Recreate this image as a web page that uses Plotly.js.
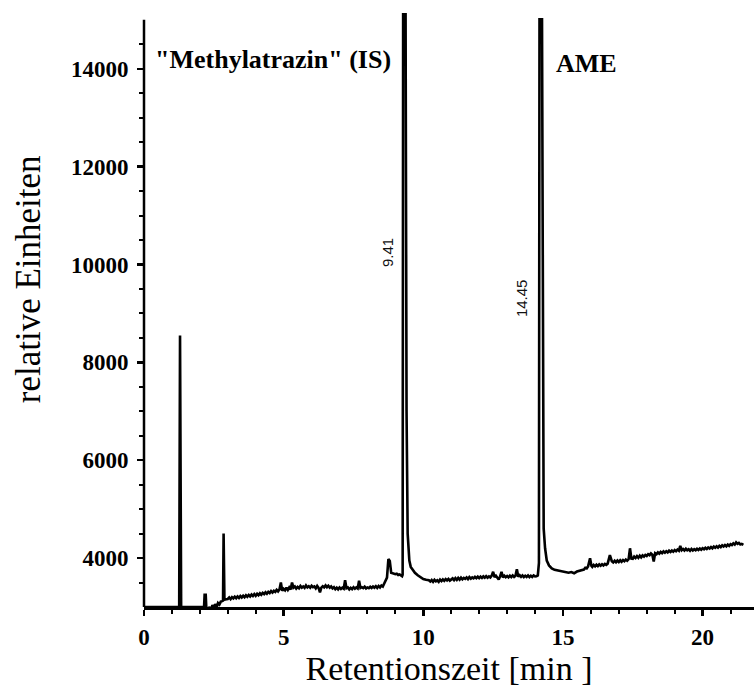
<!DOCTYPE html>
<html>
<head>
<meta charset="utf-8">
<script src="https://cdn.plot.ly/plotly-3.0.1.min.js"></script>
<style>html,body{margin:0;padding:0;background:#fff;}#chart{width:754px;height:693px;}</style>
</head>
<body>
<div id="chart"></div>
<script>
// Retention time [min]
const timeMin = [
  0, 1.26, 1.29, 1.33, 2.15, 2.17, 2.21, 2.23, 2.30, 2.35, 2.40, 2.45, 2.50, 2.55, 2.60, 2.65, 2.70, 2.75, 2.80, 2.83, 2.85, 2.88,
  2.95, 3.0, 3.05, 3.1, 3.15, 3.2, 3.25, 3.3, 3.35, 3.4, 3.45, 3.5, 3.55, 3.6, 3.65, 3.7, 3.75, 3.8, 3.85, 3.9, 3.95, 4.0,
  4.05, 4.1, 4.15, 4.2, 4.25, 4.3, 4.35, 4.4, 4.45, 4.5, 4.55, 4.6, 4.65, 4.7, 4.75, 4.8, 4.85, 4.9, 4.95, 5.0,
  5.05, 5.1, 5.15, 5.2, 5.25, 5.3, 5.35, 5.4, 5.45, 5.5, 5.55, 5.6, 5.65, 5.7, 5.75, 5.8, 5.85, 5.9, 5.95, 6.0,
  6.05, 6.1, 6.15, 6.2, 6.25, 6.3, 6.35, 6.4, 6.45, 6.5, 6.55, 6.6, 6.65, 6.7, 6.75, 6.8, 6.85, 6.9, 6.95, 7.0,
  7.05, 7.1, 7.15, 7.2, 7.25, 7.3, 7.35, 7.4, 7.45, 7.5, 7.55, 7.6, 7.65, 7.7, 7.75, 7.8, 7.85, 7.9, 7.95, 8.0,
  8.05, 8.1, 8.15, 8.2, 8.25, 8.3, 8.35, 8.4, 8.45, 8.5, 8.55, 8.6, 8.65, 8.7, 8.75, 8.8, 8.85, 8.9, 8.95,
  9.0, 9.05, 9.1, 9.15, 9.2, 9.24, 9.26, 9.28, 9.36, 9.40, 9.44, 9.47, 9.50, 9.55, 9.62, 9.70, 9.80, 9.90, 10.0, 10.1, 10.2,
  10.25, 10.3, 10.35, 10.4, 10.45, 10.5, 10.55, 10.6, 10.65, 10.7, 10.75, 10.8, 10.85, 10.9, 10.95, 11.0,
  11.05, 11.1, 11.15, 11.2, 11.25, 11.3, 11.35, 11.4, 11.45, 11.5, 11.55, 11.6, 11.65, 11.7, 11.75, 11.8, 11.85, 11.9, 11.95, 12.0,
  12.05, 12.1, 12.15, 12.2, 12.25, 12.3, 12.35, 12.4, 12.45, 12.5, 12.55, 12.6, 12.65, 12.7, 12.75, 12.8, 12.85, 12.9, 12.95, 13.0,
  13.05, 13.1, 13.15, 13.2, 13.25, 13.3, 13.35, 13.4, 13.45, 13.5, 13.55, 13.6, 13.65, 13.7, 13.75, 13.8, 13.85, 13.9, 13.95, 14.0,
  14.05, 14.10, 14.14, 14.16, 14.25, 14.28, 14.31, 14.36, 14.42, 14.5, 14.6, 14.7, 14.8, 14.9, 15.0,
  15.1, 15.2, 15.3, 15.4, 15.5, 15.6, 15.7, 15.75, 15.8, 15.85, 15.9, 15.97, 16.02, 16.05, 16.1, 16.15, 16.2, 16.25, 16.3, 16.35, 16.4, 16.45, 16.5, 16.55, 16.6, 16.68, 16.75, 16.8, 16.85, 16.9, 16.95, 17.0,
  17.05, 17.1, 17.15, 17.2, 17.25, 17.3, 17.35, 17.4, 17.45, 17.5, 17.55, 17.6, 17.65, 17.7, 17.75, 17.8, 17.85, 17.9, 17.95, 18.0,
  18.05, 18.1, 18.15, 18.2, 18.25, 18.3, 18.35, 18.4, 18.45, 18.5, 18.55, 18.6, 18.65, 18.7, 18.75, 18.8, 18.85, 18.9, 18.95, 19.0,
  19.05, 19.1, 19.15, 19.2, 19.25, 19.3, 19.35, 19.4, 19.45, 19.5, 19.55, 19.6, 19.65, 19.7, 19.75, 19.8, 19.85, 19.9, 19.95, 20.0,
  20.05, 20.1, 20.15, 20.2, 20.25, 20.3, 20.35, 20.4, 20.45, 20.5, 20.55, 20.6, 20.65, 20.7, 20.75, 20.8, 20.85, 20.9, 20.95, 21.0,
  21.05, 21.1, 21.15, 21.2, 21.25, 21.3, 21.35, 21.4, 21.46
];
// Detector response [relative units]
const signal = [
  3000, 3000, 8550, 3000, 3000, 3250, 3250, 3000, 2950, 3000, 2930, 3040, 2960, 3060, 2990, 3080, 3050, 3110, 3120, 3130, 4500, 3150,
  3160, 3165, 3195, 3160, 3200, 3175, 3210, 3180, 3215, 3185, 3225, 3195, 3230, 3200, 3240, 3210, 3245, 3215, 3255, 3225, 3265, 3230,
  3270, 3240, 3280, 3250, 3290, 3265, 3300, 3270, 3310, 3285, 3325, 3295, 3330, 3310, 3350, 3320, 3360, 3500, 3330, 3370,
  3340, 3395, 3350, 3400, 3360, 3500, 3395, 3420, 3375, 3410, 3385, 3430, 3395, 3420, 3390, 3440, 3400, 3425, 3395, 3435,
  3405, 3420, 3380, 3430, 3390, 3300, 3395, 3425, 3400, 3440, 3405, 3435, 3395, 3420, 3380, 3405, 3365, 3395, 3360, 3400,
  3370, 3395, 3375, 3545, 3385, 3400, 3360, 3390, 3365, 3405, 3375, 3400, 3380, 3535, 3390, 3405, 3385, 3415, 3380, 3400,
  3385, 3415, 3390, 3420, 3395, 3425, 3390, 3430, 3400, 3440, 3420, 3470, 3520, 3600, 3980, 3940, 3700, 3690, 3675,
  3670, 3680, 3655, 3665, 3640, 3630, 3660, 16400, 16400, 7000, 4500, 4250, 3950, 3820, 3760, 3700, 3650, 3600, 3570, 3555, 3545,
  3520, 3550, 3515, 3555, 3525, 3545, 3515, 3560, 3530, 3565, 3535, 3570, 3545, 3575, 3540, 3570,
  3585, 3550, 3590, 3555, 3595, 3560, 3600, 3565, 3595, 3575, 3605, 3570, 3610, 3580, 3605, 3585, 3615, 3590, 3620, 3590,
  3620, 3595, 3625, 3600, 3630, 3600, 3625, 3605, 3640, 3720, 3610, 3640, 3600, 3560, 3625, 3720, 3605, 3640, 3610, 3635,
  3605, 3640, 3610, 3645, 3615, 3640, 3770, 3620, 3650, 3615, 3645, 3610, 3640, 3615, 3645, 3610, 3640, 3615, 3645, 3625,
  3630, 3645, 3900, 15010, 15010, 6000, 4600, 4200, 3950, 3850, 3790, 3760, 3750, 3735, 3720,
  3705, 3700, 3715, 3690, 3725, 3740, 3770, 3765, 3800, 3790, 3830, 3995, 3840, 3820, 3860, 3830, 3865, 3835, 3870, 3845, 3875, 3850, 3880, 3860, 3885, 4060, 3935, 3910, 3945, 3915, 3950, 3920,
  3955, 3925, 3960, 3935, 3970, 3945, 3975, 4200, 3990, 3985, 4030, 4000, 4040, 4005, 4050, 4015, 4055, 4030, 4065, 4045,
  4080, 4060, 4095, 4070, 3930, 4100, 4080, 4115, 4090, 4125, 4100, 4135, 4110, 4140, 4115, 4150, 4125, 4155, 4130, 4165,
  4140, 4175, 4150, 4250, 4160, 4185, 4155, 4190, 4160, 4180, 4150, 4185, 4155, 4180, 4160, 4190, 4165, 4195, 4170, 4200,
  4180, 4210, 4185, 4215, 4195, 4225, 4200, 4235, 4210, 4240, 4215, 4250, 4225, 4260, 4235, 4265, 4240, 4275, 4250, 4285,
  4265, 4300, 4275, 4320, 4290, 4310, 4280, 4290, 4270
];
const yTickVals = [4000, 6000, 8000, 10000, 12000, 14000];
const yMinorVals = [3500, 4500, 5000, 5500, 6500, 7000, 7500, 8500, 9000, 9500, 10500, 11000, 11500, 12500, 13000, 13500, 14500];
const xTickVals = [0, 5, 10, 15, 20];
const peakLabels = ["9.41", "14.45"];
const compoundLabels = ['"Methylatrazin" (IS)', 'AME'];

const serif = '"Liberation Serif", "Times New Roman", serif';

const trace = {
  x: timeMin, y: signal, type: 'scatter', mode: 'lines',
  line: {color: '#000', width: 2.6},
  hoverinfo: 'skip', showlegend: false
};

const layout = {
  width: 754, height: 693,
  margin: {l: 144, r: 0, t: 13, b: 86, pad: 0},
  paper_bgcolor: '#fff', plot_bgcolor: '#fff',
  showlegend: false,
  xaxis: {
    range: [0, 21.84], showgrid: false, zeroline: false,
    showline: true, linecolor: '#000', linewidth: 2.5,
    ticks: 'outside', ticklen: 6, tickwidth: 2.5, tickcolor: '#000',
    tickvals: xTickVals, ticktext: xTickVals.map(String),
    minor: {dtick: 1, tick0: 0, ticks: 'outside', ticklen: 4, tickwidth: 2, tickcolor: '#000'},
    tickfont: {family: serif, size: 23, color: '#000', weight: 'bold'},
    ticklabelstandoff: 2,
    title: {text: 'Retentionszeit [min ]', font: {family: serif, size: 34, color: '#000'}, standoff: 0}
  },
  yaxis: {
    range: [3000, 15140], showgrid: false, zeroline: false,
    showline: false,
    ticks: 'outside', ticklen: 6, tickwidth: 2.5, tickcolor: '#000',
    tickvals: yTickVals, ticktext: yTickVals.map(String),
    minor: {tickvals: yMinorVals, ticks: 'outside', ticklen: 4, tickwidth: 2, tickcolor: '#000'},
    tickfont: {family: serif, size: 23, color: '#000', weight: 'bold'},
    ticklabelstandoff: 4
  },
  shapes: [
    {type: 'line', xref: 'paper', yref: 'y', x0: 0, x1: 0, y0: 3000, y1: 15000,
     line: {color: '#000', width: 2.5}}
  ],
  annotations: [
    {text: 'relative Einheiten', xref: 'paper', yref: 'paper', x: -0.19, y: 0.552,
     xanchor: 'center', yanchor: 'middle', textangle: -90, showarrow: false,
     font: {family: serif, size: 35, color: '#000'}},
    {text: compoundLabels[0], xref: 'x', yref: 'y', x: 4.62, y: 14180,
     xanchor: 'center', yanchor: 'middle', showarrow: false,
     font: {family: serif, size: 26, color: '#000', weight: 'bold'}},
    {text: compoundLabels[1], xref: 'x', yref: 'y', x: 15.86, y: 14100,
     xanchor: 'center', yanchor: 'middle', showarrow: false,
     font: {family: serif, size: 26, color: '#000', weight: 'bold'}},
    {text: peakLabels[0], xref: 'x', yref: 'y', x: 8.70, y: 10255,
     xanchor: 'center', yanchor: 'middle', textangle: -90, showarrow: false,
     font: {family: '"Liberation Sans", Arial, sans-serif', size: 15, color: '#111'}},
    {text: peakLabels[1], xref: 'x', yref: 'y', x: 13.50, y: 9315,
     xanchor: 'center', yanchor: 'middle', textangle: -90, showarrow: false,
     font: {family: '"Liberation Sans", Arial, sans-serif', size: 15, color: '#111'}}
  ]
};

Plotly.newPlot('chart', [trace], layout, {displayModeBar: false, staticPlot: true});
</script>
</body>
</html>
